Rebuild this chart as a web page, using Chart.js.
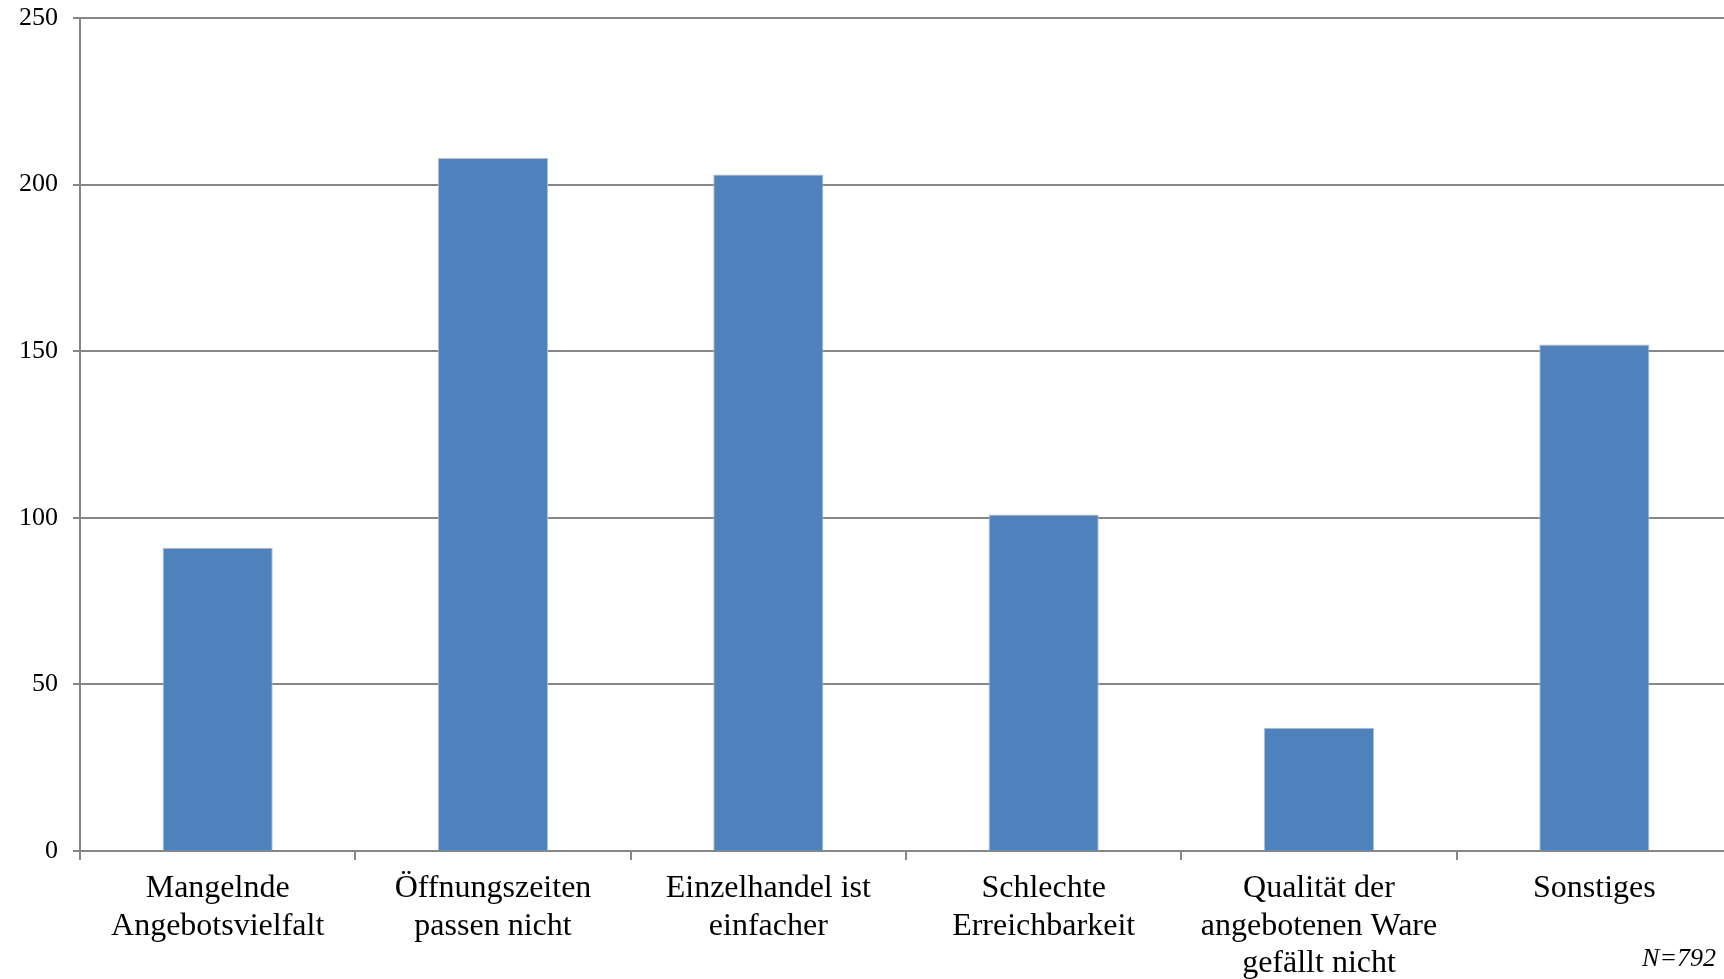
<!DOCTYPE html>
<html>
<head>
<meta charset="utf-8">
<script src="https://cdn.jsdelivr.net/npm/chart.js@4/dist/chart.umd.min.js"></script>
<style>
    html, body { margin: 0; padding: 0; background: #ffffff; }
    #wrap { position: relative; width: 1724px; height: 979px; overflow: hidden; }
    #note {
        position: absolute; right: 8px; bottom: 6px;
        font-family: "Liberation Serif", "Times New Roman", serif;
        font-style: italic; font-size: 26px; color: #000;
    }
</style>
</head>
<body>
<div id="wrap">
    <!-- canvas a bit wider than the page: the plot runs past the right edge -->
    <canvas id="chart" width="1732" height="979"></canvas>
    <div id="note">N=792</div>
</div>
<script>
// categories, split into lines like the original axis labels
const categories = [
    ['Mangelnde', 'Angebotsvielfalt'],
    ['Öffnungszeiten', 'passen nicht'],
    ['Einzelhandel ist', 'einfacher'],
    ['Schlechte', 'Erreichbarkeit'],
    ['Qualität der', 'angebotenen Ware', 'gefällt nicht'],
    ['Sonstiges'],
];
const counts = [91, 208, 203, 101, 37, 152];
const yTicks = [0, 50, 100, 150, 200, 250];

const gridGray = '#868686';
const serif = '"Liberation Serif", "Times New Roman", serif';

const htmlElement = document.getElementById('chart');
new Chart(htmlElement, {
    type: 'bar',
    data: {
        labels: categories,
        datasets: [{
            data: counts,
            backgroundColor: '#4F81BD',
            borderColor: '#a9c0dc',
            borderWidth: 1,
            categoryPercentage: 1,
            barPercentage: 0.4,
        }],
    },
    options: {
        responsive: false,
        animation: false,
        layout: {
            padding: { top: 18, right: 0, bottom: 0, left: 0 },
        },
        plugins: {
            legend: { display: false },
            tooltip: { enabled: false },
        },
        scales: {
            x: {
                offset: true,
                border: { display: true, color: gridGray, width: 2 },
                grid: {
                    offset: true,
                    drawOnChartArea: false,
                    drawTicks: true,
                    tickLength: 9,
                    color: gridGray,
                    lineWidth: 2,
                },
                ticks: {
                    maxRotation: 0,
                    minRotation: 0,
                    autoSkip: false,
                    padding: 10,
                    color: '#000',
                    font: { family: serif, size: 32, lineHeight: 1.17 },
                },
                afterFit: (scale) => { scale.height = 128; },
            },
            y: {
                min: 0,
                max: 250,
                border: { display: true, color: gridGray, width: 2 },
                grid: {
                    color: gridGray,
                    lineWidth: 2,
                    tickLength: 7,
                },
                afterBuildTicks: (scale) => {
                    scale.ticks = yTicks.map(v => ({ value: v }));
                },
                ticks: {
                    padding: 15,
                    color: '#000',
                    font: { family: serif, size: 26 },
                },
                afterFit: (scale) => {
                    scale.width = 80;
                    // the label padding should not push the plot down
                    scale.paddingTop = 0;
                    scale.paddingBottom = 0;
                },
            },
        },
    },
});
</script>
</body>
</html>
